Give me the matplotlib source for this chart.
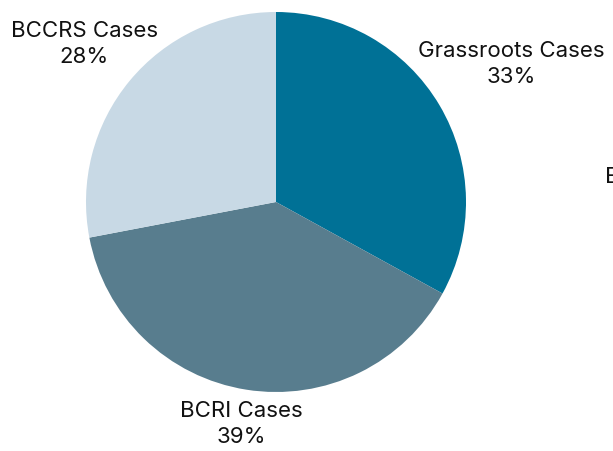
import matplotlib
matplotlib.use("Agg")
import matplotlib.pyplot as plt
import numpy as np

categories = ["Grassroots Cases", "BCRI Cases", "BCCRS Cases"]
values = [33, 39, 28]
colors = ["#007196", "#587D8E", "#C8D9E5"]
label_dist = [1.44, 1.18, 1.31]

plt.rcParams['font.family'] = ['Inter', 'DejaVu Sans']

fig = plt.figure(figsize=(6.13, 4.52), dpi=100)
ax = fig.add_axes([0, 0, 1, 1])

cx, cy, r = 276, 452 - 203, 190
wedges, _ = ax.pie(values, colors=colors, startangle=90, counterclock=False,
                   center=(cx, cy), radius=r, frame=True)
ax.set_xlim(0, 613)
ax.set_ylim(0, 452)
ax.set_aspect('equal')
ax.axis('off')

total = sum(values)
for w, cat, v, d in zip(wedges, categories, values, label_dist):
    mid = np.deg2rad((w.theta1 + w.theta2) / 2)
    x = cx + d * r * np.cos(mid)
    y = cy + d * r * np.sin(mid)
    ax.text(x, y, f"{cat}\n{round(100 * v / total)}%", ha='center', va='center',
            fontsize=16, fontweight='normal', color='#111111', linespacing=1.38)

ax.text(605, 452 - 177, "E", ha='left', va='center', fontsize=16,
        fontweight='normal', color='#111111')

fig.savefig("out.png", dpi=100)
